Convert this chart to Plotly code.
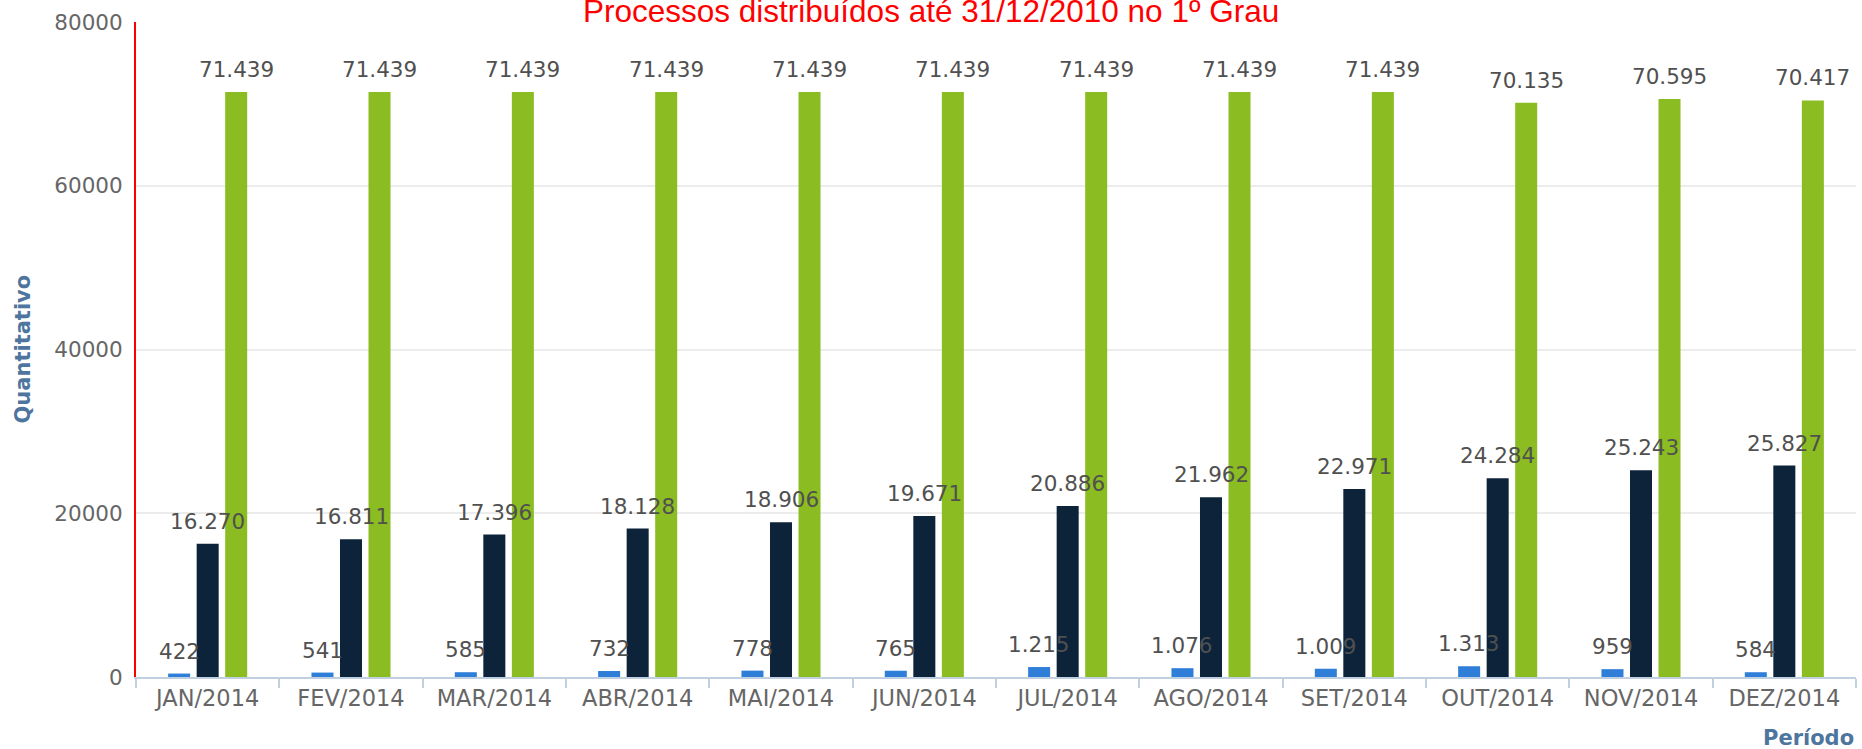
import plotly.graph_objects as go

# ---- data ----
categories = ["JAN/2014", "FEV/2014", "MAR/2014", "ABR/2014", "MAI/2014", "JUN/2014",
              "JUL/2014", "AGO/2014", "SET/2014", "OUT/2014", "NOV/2014", "DEZ/2014"]
series_a = [422, 541, 585, 732, 778, 765, 1215, 1076, 1009, 1313, 959, 584]
series_b = [16270, 16811, 17396, 18128, 18906, 19671, 20886, 21962, 22971, 24284, 25243, 25827]
series_c = [71439, 71439, 71439, 71439, 71439, 71439, 71439, 71439, 71439, 70135, 70595, 70417]
series_names = ["Série 1", "Série 2", "Série 3"]
y_ticks = [0, 20000, 40000, 60000, 80000]

title_text = "Processos distribuídos até 31/12/2010 no 1º Grau"
y_title = "Quantitativo"
x_title = "Período"

# ---- style ----
W, H = 1862, 749
M_L, M_R, M_T, M_B = 136, 6, 22, 72
BARGAP = 0.403
BARGROUPGAP = 0.228
colors = ["#2f7ed8", "#0d233a", "#8bbc21"]
LABEL_FONT = dict(family="DejaVu Sans", size=21.5, color="#505050")


def fmt(v):
    return f"{v:,}".replace(",", ".")


fig = go.Figure()
all_series = [series_a, series_b, series_c]
for vals, name, col in zip(all_series, series_names, colors):
    fig.add_trace(go.Bar(x=categories, y=vals, name=name, marker_color=col,
                         marker_line_width=0, hoverinfo="x+y"))

plot_w = W - M_L - M_R
cat_w = plot_w / len(categories)
slot = cat_w * (1 - BARGAP) / 3

annotations = []
for i, vals in enumerate(all_series):
    shift = (i - 1) * slot
    for c, v in zip(categories, vals):
        annotations.append(dict(x=c, y=v, xref="x", yref="y", text=fmt(v),
                                showarrow=False, xanchor="center", yanchor="bottom",
                                xshift=shift, yshift=8, font=LABEL_FONT))

annotations.append(dict(x=(W / 2 - M_L) / plot_w, y=1, xref="paper", yref="paper",
                        text=title_text, showarrow=False, xanchor="center", yanchor="bottom",
                        yshift=-9.5, font=dict(family="Liberation Sans, Arial", size=31.5, color="#ff0000")))
annotations.append(dict(x=0, y=0.5, xref="paper", yref="paper", text=f"<b>{y_title}</b>",
                        showarrow=False, textangle=-90, xanchor="center", yanchor="middle",
                        xshift=-(M_L - 22), font=dict(family="DejaVu Sans", size=21, color="#4d759e")))
annotations.append(dict(x=1, y=0, xref="paper", yref="paper", text=f"<b>{x_title}</b>",
                        showarrow=False, xanchor="right", yanchor="middle",
                        yshift=-60.5, font=dict(family="DejaVu Sans", size=21, color="#4d759e")))

fig.update_layout(
    width=W, height=H,
    margin=dict(l=M_L, r=M_R, t=M_T, b=M_B, pad=0),
    paper_bgcolor="white", plot_bgcolor="white",
    barmode="group", bargap=BARGAP, bargroupgap=BARGROUPGAP,
    showlegend=False,
    annotations=annotations,
    font=dict(family="DejaVu Sans", color="#666666"),
)
fig.update_xaxes(
    type="category", range=[-0.5, len(categories) - 0.5],
    showline=True, linecolor="#C0D0E0", linewidth=2,
    ticks="outside", tickson="boundaries", ticklen=9, tickwidth=2, tickcolor="#C0D0E0",
    tickfont=dict(family="DejaVu Sans", size=22.5, color="#666666"),
    showgrid=False, zeroline=False, fixedrange=True,
)
fig.update_yaxes(
    range=[0, 80000], tickvals=y_ticks, ticktext=[str(t) for t in y_ticks],
    showline=True, linecolor="#ff0000", linewidth=2,
    showgrid=True, gridcolor="#ececec", gridwidth=1.5, zeroline=False,
    ticks="", ticklabelstandoff=7,
    tickfont=dict(family="DejaVu Sans", size=21.5, color="#666666"),
    fixedrange=True,
)

fig.write_html("out.html", config={"displayModeBar": False},
               post_script="document.body.style.margin='0';document.body.style.overflow='hidden';")
